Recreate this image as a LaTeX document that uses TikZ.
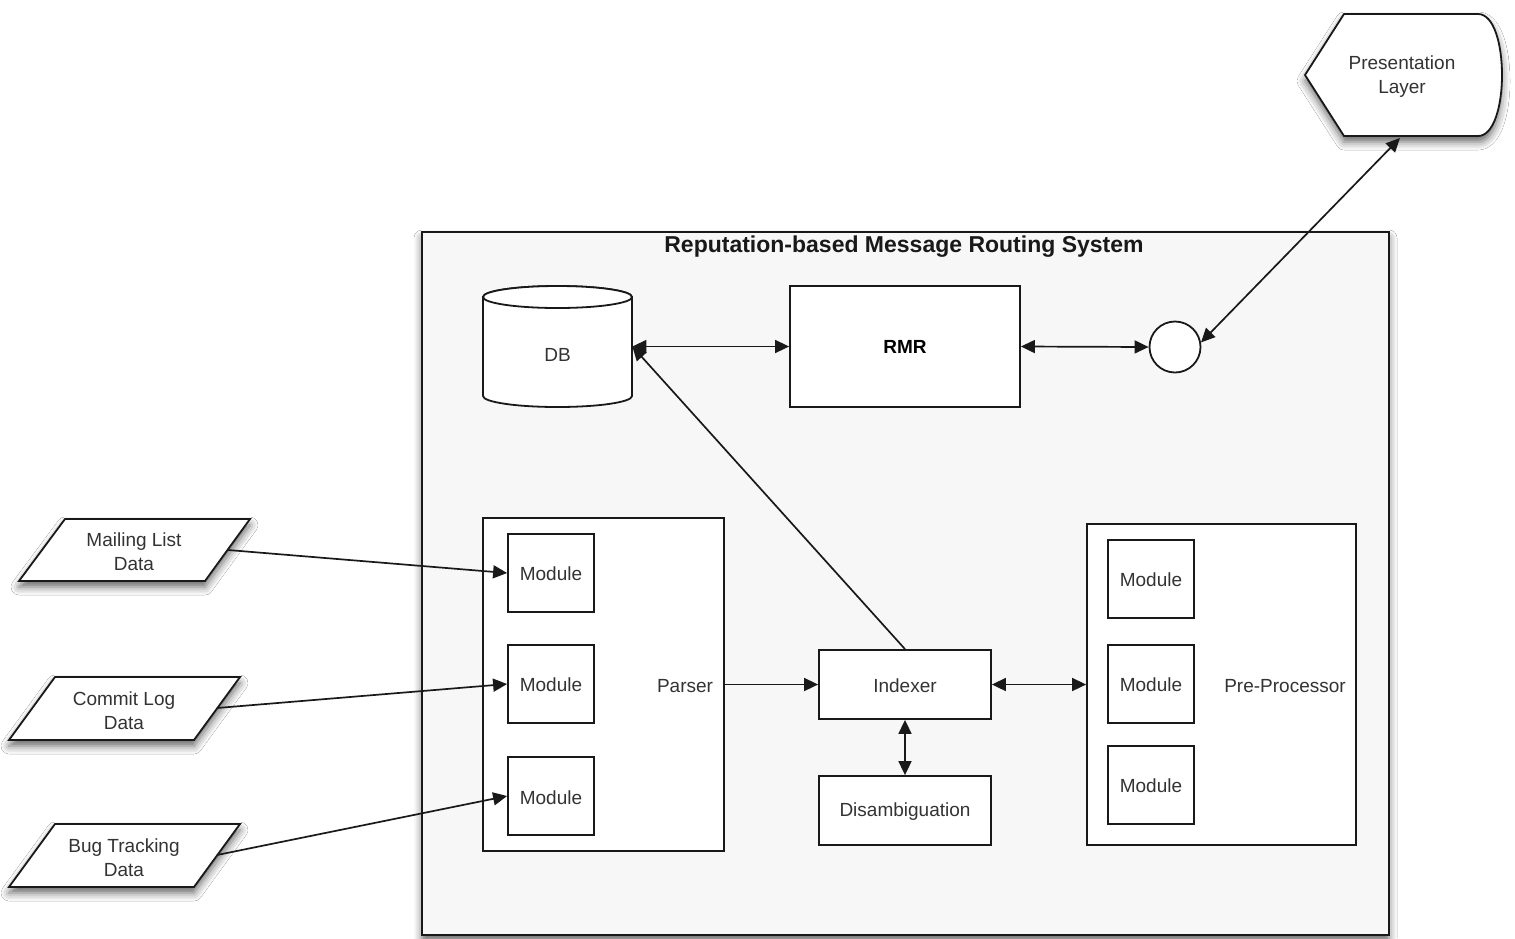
\documentclass[tikz,border=0pt]{standalone}
\usepackage{fontspec}
\setmainfont{Liberation Sans}
\usetikzlibrary{arrows.meta,shadows.blur}
\newcommand{\fs}{\fontsize{9.5}{12}\selectfont}
\newcommand{\ftitle}{\fontsize{11.5}{14}\selectfont\bfseries}
\definecolor{sysfill}{HTML}{F7F7F7}
\definecolor{ink}{HTML}{333333}
\tikzset{
  shad/.style={blur shadow={shadow xshift=0pt, shadow yshift=-3pt, shadow blur radius=4pt, shadow opacity=60}},
  box/.style={draw=black!90, line width=0.9pt, fill=white, inner sep=0pt, font=\fs, text=ink},
  outerbox/.style={draw=black!90, line width=0.9pt, fill=sysfill, inner sep=0pt, shad},
  lbl/.style={inner sep=0pt, font=\fs, text=ink, align=center},
  shp/.style={draw=black!90, line width=0.9pt, fill=white},
  conn/.style={line width=0.85pt, draw=black!90},
  onetip/.style={-{Triangle[length=7pt,width=6.5pt]}},
  twotip/.style={{Triangle[length=7pt,width=6.5pt]}-{Triangle[length=7pt,width=6.5pt]}},
  modbox/.style={box, minimum width=43pt, minimum height=39pt},
}
\begin{document}
\begin{tikzpicture}[x=0.5pt,y=-0.5pt]
\useasboundingbox[fill=white] (0,0) rectangle (1515,938);

% system box
\node[outerbox, minimum width=483.5pt, minimum height=351.5pt] (sys) at (905.5,583.5) {};
\node[inner sep=0pt, font=\ftitle, text=black!90] (ttl) at (904,246.5) {Reputation-based Message Routing System};

% DB cylinder
\path[shp] (483,297) -- (483,396) arc[start angle=180,end angle=360,x radius=37.25pt,y radius=5.5pt] -- (632,297) arc[start angle=0,end angle=180,x radius=37.25pt,y radius=5.5pt] -- cycle;
\draw[shp] (557.5,297) ellipse[x radius=37.25pt, y radius=5.5pt];
\node[inner sep=0pt, minimum width=74.5pt, minimum height=60.5pt, label={[lbl, yshift=-4pt]center:DB}] (db) at (557.5,346.5) {};

% RMR
\node[box, minimum width=115pt, minimum height=60.5pt, font=\fs\bfseries, text=black] (rmr) at (905,346.5) {RMR};

% circle
\node[draw=black!90, line width=0.9pt, fill=white, circle, minimum size=25.5pt, inner sep=0pt] (circ) at (1175,347) {};

% presentation layer
\path[shp, shad] (1344,14) -- (1478,14) .. controls (1510,14) and (1510,136) .. (1478,136) -- (1344,136) -- (1305,75) -- cycle;
\node[lbl] (pl) at (1402,77) {Presentation\\Layer};
\coordinate (plb) at (1400,138);

% parser
\node[box, minimum width=120.5pt, minimum height=166.5pt] (parser) at (603.5,684.5) {};
\node[lbl] (parserlbl) at (685,686) {Parser};
\node[modbox] (m1) at (551,573) {};
\node[lbl] (m1l) at (551,574) {Module};
\node[modbox] (m2) at (551,684) {};
\node[lbl] (m2l) at (551,685) {Module};
\node[modbox] (m3) at (551,796) {};
\node[lbl] (m3l) at (551,797.5) {Module};

% indexer, disambiguation
\node[box, minimum width=86pt, minimum height=34.5pt] (idx) at (905,684.5) {};
\node[lbl] (idxlbl) at (905,686) {Indexer};
\node[box, minimum width=86pt, minimum height=34.5pt] (dis) at (905,810.5) {};
\node[lbl] (dislbl) at (905,812) {Disambiguation};

% pre-processor
\node[box, minimum width=134.5pt, minimum height=160.5pt] (pre) at (1221.5,684.5) {};
\node[lbl] (prelbl) at (1285,686) {Pre-Processor};
\node[modbox] (p1) at (1151,579) {};
\node[lbl] (p1l) at (1151,580) {Module};
\node[modbox] (p2) at (1151,684) {};
\node[lbl] (p2l) at (1151,685) {Module};
\node[modbox] (p3) at (1151,785) {};
\node[lbl] (p3l) at (1151,786) {Module};

% data sources
\path[shp, shad] (65,519) -- (250,519) -- (205,581) -- (19,581) -- cycle;
\node[lbl] (ml) at (134,552) {Mailing List\\Data};
\coordinate (mle) at (228,550);
\path[shp, shad] (55,677) -- (240,677) -- (194,740) -- (9,740) -- cycle;
\node[lbl] (cl) at (124,710.5) {Commit Log\\Data};
\coordinate (cle) at (217,708);
\path[shp, shad] (55,824) -- (240,824) -- (194,887) -- (9,887) -- cycle;
\node[lbl] (bt) at (124,857.5) {Bug Tracking\\Data};
\coordinate (bte) at (217,855);

% connectors
\draw[conn, twotip] (db.east) -- (rmr.west);
\draw[conn, twotip] (rmr.east) -- (circ.west);
\draw[conn, twotip] (circ.10) -- (plb);
\draw[conn, onetip] (idx.north) -- (db.east);
\draw[conn, onetip] (parser.east) -- (idx.west);
\draw[conn, twotip] (idx.east) -- (pre.west);
\draw[conn, twotip] (idx.south) -- (dis.north);
\draw[conn, onetip] (mle) -- (m1.west);
\draw[conn, onetip] (cle) -- (m2.west);
\draw[conn, onetip] (bte) -- (m3.west);
\end{tikzpicture}
\end{document}
